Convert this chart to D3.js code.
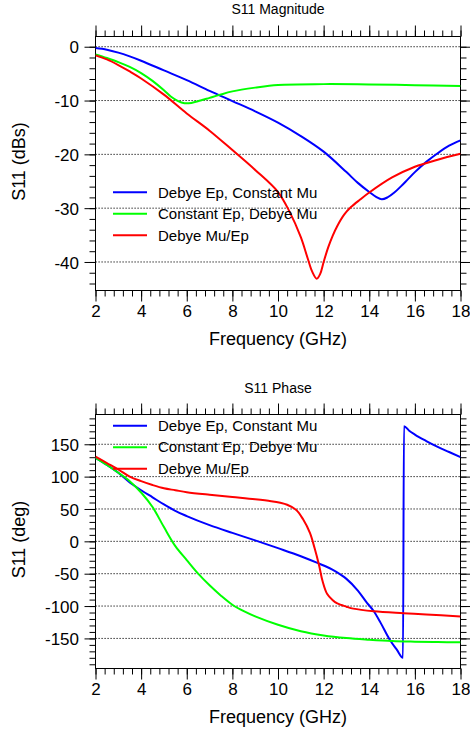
<!DOCTYPE html>
<html>
<head>
<meta charset="utf-8">
<script src="https://cdn.jsdelivr.net/npm/d3@7"></script>
<style>
  html, body { margin: 0; padding: 0; background: #fff; }
  svg { display: block; font-family: "Liberation Sans", Arial, Helvetica, sans-serif; }
</style>
</head>
<body>
<svg id="chart" width="470" height="732"></svg>
<script>
// ---------- DATA ----------
const seriesNames = ["Debye Ep, Constant Mu", "Constant Ep, Debye Mu", "Debye Mu/Ep"];
const seriesColors = ["#0000ff", "#00ff00", "#ff0000"];
const xTicks = [2, 4, 6, 8, 10, 12, 14, 16, 18];
const magTicks = [0, -10, -20, -30, -40];
const phaseTicks = [150, 100, 50, 0, -50, -100, -150];

// S11 Magnitude (dB)
const magBlueF = [2,2.5,3,3.5,4,5,6,7,8,9,10,11,12,13,13.5,14,14.3,14.55,14.8,15.1,15.4,15.7,16,16.5,17,17.5,18];
const magBlue  = [-0.25,-0.55,-1.1,-1.8,-2.6,-4.4,-6.2,-8.2,-10.1,-12.0,-14.1,-16.6,-19.5,-23.3,-25.3,-27.0,-27.9,-28.35,-28.0,-27.1,-25.9,-24.6,-23.3,-21.4,-19.8,-18.4,-17.4];
const magGreenF = [2,2.5,3,3.5,4,4.5,5,5.3,5.6,5.9,6.2,6.6,7,7.4,8,9,10,12,14,16,18];
const magGreen  = [-1.43,-2.1,-2.85,-3.75,-4.9,-6.35,-8.1,-9.25,-10.05,-10.5,-10.45,-10.0,-9.5,-9.0,-8.3,-7.6,-7.1,-6.95,-7.0,-7.15,-7.3];
const magRedF = [2,2.5,3,3.5,4,5,6,7,8,9,10,10.5,11,11.3,11.5,11.7,11.85,12.0,12.2,12.4,12.6,12.9,13.2,13.6,14,15,16,17,18];
const magRed  = [-1.6,-2.35,-3.4,-4.6,-5.9,-8.9,-12.4,-15.6,-19.2,-22.9,-27.0,-30.6,-35.4,-39.3,-41.8,-43.1,-42.2,-40.0,-37.3,-35.1,-33.3,-31.2,-29.8,-28.4,-27.1,-24.3,-22.3,-21.0,-19.9];

// S11 Phase (deg)
const phBlueF = [2,2.5,3,3.5,4,4.5,5,5.5,6,7,8,9,10,11,11.7,12.5,13,13.5,13.9,14.2,14.5,14.9,15.2,15.48,15.52,15.75,16,16.5,17,17.5,18];
const phBlue  = [129,118,106,91,79,68,57,47,39,25,13,1.5,-10.5,-23,-33,-46,-58,-76,-95,-108,-126,-152,-167,-180,178,171,165,155,146,138,130];
const phGreenF = [2,2.5,3,3.5,4,4.5,5,5.5,6,6.5,7,7.5,8,8.5,9,10,11,12,13,14,15,16,17,18];
const phGreen  = [129,118,106,93,75.5,53,22,-7.5,-29,-50,-68,-84,-98,-108,-116,-129,-139,-145.5,-149.5,-152,-154,-155,-155.7,-156];
const phRedF = [2,2.5,3,3.5,4,4.5,5,5.5,6,7,8,9,9.7,10.1,10.4,10.8,11.1,11.4,11.6,11.8,11.95,12.15,12.4,12.6,13,13.3,14.2,15.5,16.5,18];
const phRed  = [131,121,111,100,93,87,82,79,76,72,68.5,65,62,59.5,56.5,48.5,34,13,-10,-37,-61,-81,-91,-96,-101,-104,-108,-111,-113,-116];

// ---------- DRAW ----------
const svg = d3.select("#chart");
const left = 95.5, right = 460.5;
const x = d3.scaleLinear().domain([2, 18]).range([left, right]);

const zip = (fs, vs) => fs.map((f, i) => ({f, v: vs[i]}));
const smooth = d3.curveCatmullRom.alpha(0.5);

function panel(cfg) {
  const y = d3.scaleLinear().domain(cfg.yDomain).range([cfg.bottom, cfg.top]);
  const g = svg.append("g");

  g.append("text").attr("x", (left + right) / 2).attr("y", cfg.titleY)
    .attr("text-anchor", "middle").attr("font-size", 14).text(cfg.title);

  g.append("g").selectAll("line").data(cfg.yTicks).join("line")
    .attr("x1", left).attr("x2", right)
    .attr("y1", d => y(d)).attr("y2", d => y(d))
    .attr("stroke", "#000").attr("stroke-width", 1)
    .attr("stroke-dasharray", "1.2,1.8");

  const minorX = d3.range(2, 18.001, 0.4);
  const minorY = d3.range(cfg.minorStart, cfg.yDomain[1] + 0.001, cfg.minorStep);

  function addAxis(axisFn, scale, transform, major, minor, labels) {
    const gMinor = g.append("g").attr("transform", transform)
      .call(axisFn(scale).tickValues(minor).tickSize(6).tickSizeOuter(0).tickFormat(""));
    const gMajor = g.append("g").attr("transform", transform)
      .call(axisFn(scale).tickValues(major).tickSize(11).tickSizeOuter(0)
        .tickFormat(labels ? (d => String(d)) : ""));
    [gMinor, gMajor].forEach(a => {
      a.select(".domain").remove();
      a.selectAll("line").attr("stroke", "#000").attr("stroke-width", 1);
    });
    gMajor.selectAll("text").attr("font-size", 17).attr("fill", "#000")
      .attr("font-family", "'Liberation Sans', Arial, Helvetica, sans-serif");
    return gMajor;
  }

  const bx = addAxis(d3.axisBottom, x, `translate(0,${cfg.bottom})`, xTicks, minorX, true);
  bx.selectAll("text").attr("y", 14).attr("dy", "0.71em");
  addAxis(d3.axisTop, x, `translate(0,${cfg.top})`, xTicks, minorX, false);
  const ly = addAxis(d3.axisLeft, y, `translate(${left},0)`, cfg.yTicks, minorY, true);
  ly.selectAll("text").attr("x", -16.5).attr("dy", "0.36em");
  addAxis(d3.axisRight, y, `translate(${right},0)`, cfg.yTicks, minorY, false);

  g.append("rect").attr("x", left).attr("y", cfg.top)
    .attr("width", right - left).attr("height", cfg.bottom - cfg.top)
    .attr("fill", "none").attr("stroke", "#000").attr("stroke-width", 1);

  const clipId = "clip" + cfg.id;
  svg.append("clipPath").attr("id", clipId).append("rect")
    .attr("x", left).attr("y", cfg.top).attr("width", right - left).attr("height", cfg.bottom - cfg.top);
  const cg = g.append("g").attr("clip-path", `url(#${clipId})`);
  cfg.series.forEach((s, i) => {
    const line = d3.line().x(d => x(d.f)).y(d => y(d.v)).curve(cfg.curves[i]);
    cg.append("path").datum(s).attr("d", line)
      .attr("fill", "none").attr("stroke", seriesColors[i])
      .attr("stroke-width", 2).attr("stroke-linejoin", "round");
  });

  const lg = g.append("g");
  seriesNames.forEach((name, i) => {
    const yy = cfg.legendY + i * 21.5;
    lg.append("line").attr("x1", 113).attr("x2", 147).attr("y1", yy).attr("y2", yy)
      .attr("stroke", seriesColors[i]).attr("stroke-width", 2);
    lg.append("text").attr("x", 158).attr("y", yy).attr("dy", "0.35em")
      .attr("font-size", 15).text(name);
  });

  g.append("text").attr("x", (left + right) / 2).attr("y", cfg.bottom + 54)
    .attr("text-anchor", "middle").attr("font-size", 18).text("Frequency (GHz)");
  g.append("text")
    .attr("transform", `translate(24.5,${(cfg.top + cfg.bottom) / 2 - 2}) rotate(-90)`)
    .attr("text-anchor", "middle").attr("font-size", 18).text(cfg.yLabel);
}

panel({
  id: 1, title: "S11 Magnitude", titleY: 14, top: 36.5, bottom: 290.5,
  yDomain: [-45.3, 1.9], yTicks: magTicks, minorStart: -44, minorStep: 2,
  yLabel: "S11 (dBs)", legendY: 192.3,
  curves: [smooth, smooth, smooth],
  series: [zip(magBlueF, magBlue), zip(magGreenF, magGreen), zip(magRedF, magRed)]
});

panel({
  id: 2, title: "S11 Phase", titleY: 393, top: 414.5, bottom: 668.5,
  yDomain: [-196.5, 196], yTicks: phaseTicks, minorStart: -190, minorStep: 10,
  yLabel: "S11 (deg)", legendY: 425.7,
  curves: [d3.curveMonotoneX, smooth, smooth],
  series: [zip(phBlueF, phBlue), zip(phGreenF, phGreen), zip(phRedF, phRed)]
});
</script>
</body>
</html>
